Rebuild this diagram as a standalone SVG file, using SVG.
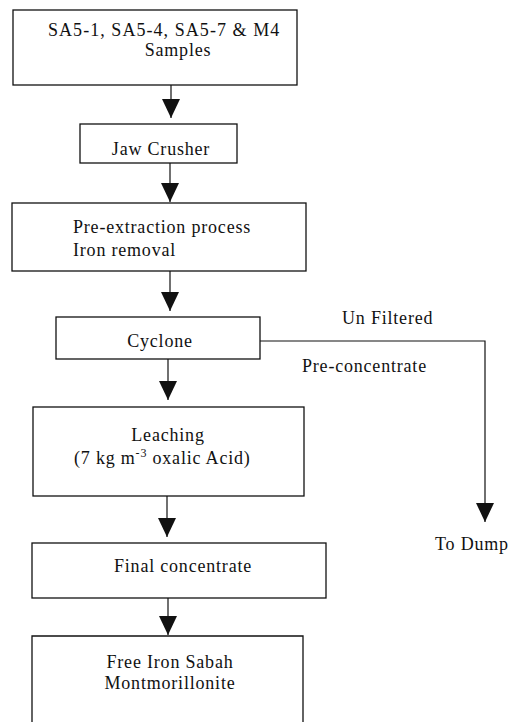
<svg xmlns="http://www.w3.org/2000/svg" width="513" height="722" viewBox="0 0 513 722">
<style>
.box{fill:none;stroke:#111;stroke-width:1.3}
.t{font-family:"Liberation Serif","Times New Roman","DejaVu Serif",serif;font-size:18px;letter-spacing:0.8px;fill:#111}
.c{text-anchor:middle}
.ln{fill:none;stroke:#111;stroke-width:1.2}
</style>
<defs>
<marker id="ah" markerUnits="userSpaceOnUse" markerWidth="20" markerHeight="20" viewBox="0 0 20 20" refX="19" refY="10" orient="auto">
<path d="M0,1 L19,10 L0,19 Z" fill="#111"/>
</marker>
</defs>
<rect width="513" height="722" fill="#fff"/>
<g id="n1">
<rect class="box" x="13" y="10" width="284" height="75"/>
<text class="t" x="48" y="36" textLength="232">SA5-1, SA5-4, SA5-7 &amp; M4</text>
<text class="t c" x="178" y="56">Samples</text>
</g>
<g id="n2">
<rect class="box" x="80" y="124" width="157" height="39"/>
<text class="t c" x="161" y="155">Jaw Crusher</text>
</g>
<g id="n3">
<rect class="box" x="12" y="203" width="294" height="68"/>
<text class="t" x="73" y="233">Pre-extraction process</text>
<text class="t" x="73" y="256">Iron removal</text>
</g>
<g id="n4">
<rect class="box" x="56" y="317" width="204" height="42"/>
<text class="t c" x="160" y="347">Cyclone</text>
</g>
<g id="n5">
<rect class="box" x="33" y="407" width="271" height="89"/>
<text class="t c" x="168" y="441">Leaching</text>
<text class="t" x="74" y="464">(7 kg m<tspan font-size="12" dy="-7">-3</tspan><tspan dy="7"> oxalic Acid)</tspan></text>
</g>
<g id="n6">
<rect class="box" x="32" y="543" width="294" height="55"/>
<text class="t c" x="183" y="572">Final concentrate</text>
</g>
<g id="n7">
<path class="box" d="M32,722 V636 H303 V722"/>
<text class="t c" x="170" y="668">Free Iron Sabah</text>
<text class="t c" x="170" y="689">Montmorillonite</text>
</g>
<g id="labels">
<text class="t" x="342" y="324">Un Filtered</text>
<text class="t" x="302" y="372">Pre-concentrate</text>
<text class="t c" x="472" y="550">To Dump</text>
</g>
<g id="connectors">
<line class="ln" x1="171" y1="85" x2="171" y2="118" marker-end="url(#ah)"/>
<line class="ln" x1="170" y1="163" x2="170" y2="202" marker-end="url(#ah)"/>
<line class="ln" x1="170" y1="271" x2="170" y2="311" marker-end="url(#ah)"/>
<line class="ln" x1="168" y1="359" x2="168" y2="400" marker-end="url(#ah)"/>
<line class="ln" x1="167" y1="496" x2="167" y2="537" marker-end="url(#ah)"/>
<line class="ln" x1="168" y1="598" x2="168" y2="635" marker-end="url(#ah)"/>
<path class="ln" d="M260,341 H485 V522" marker-end="url(#ah)"/>
</g>
</svg>
